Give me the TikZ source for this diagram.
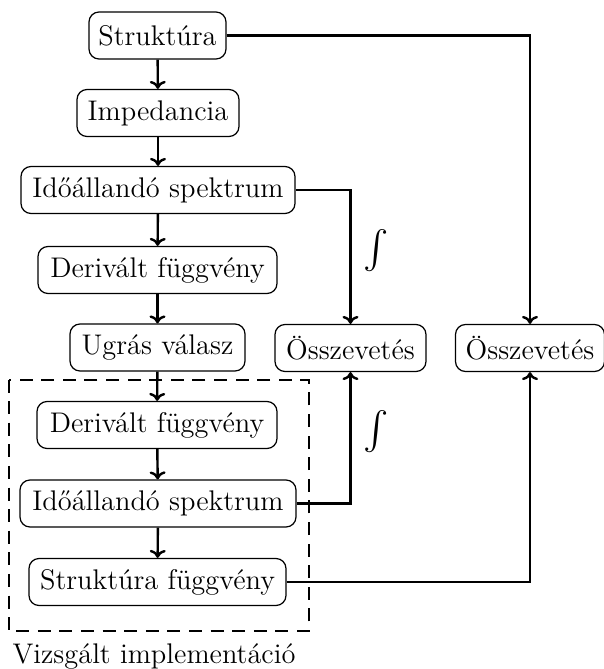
\documentclass[tikz,border=0pt]{standalone}
\usetikzlibrary{arrows.meta}
\begin{document}
\begin{tikzpicture}[x=0.5pt,y=-0.5pt,
  box/.style={draw,line width=0.6pt,rounded corners=5pt,inner sep=0pt,minimum height=23.5pt,font=\fontsize{14.2}{16}\selectfont},
  conn/.style={line width=1.2pt,-{To[length=4pt,width=8pt]}},
  lbl/.style={font=\fontsize{14.2}{16}\selectfont,inner sep=0pt}]
\useasboundingbox (0,0) rectangle (604,669);
\node[box,minimum width=68.5pt] (s) at (157.5,35.5) {Struktúra};
\node[box,minimum width=81pt] (imp) at (158,113) {Impedancia};
\node[box,minimum width=137pt] (ta) at (158,190) {Időállandó spektrum};
\node[box,minimum width=119.5pt] (da) at (157.5,270) {Derivált függvény};
\node[box,minimum width=87.5pt] (u) at (157.5,347.5) {Ugrás válasz};
\node[box,minimum width=120pt] (db) at (157,425) {Derivált függvény};
\node[box,minimum width=138pt] (tb) at (158,503.5) {Időállandó spektrum};
\node[box,minimum width=128.5pt] (sf) at (157.5,582) {Struktúra függvény};
\node[box,minimum width=75.5pt] (o1) at (350.5,348) {Összevetés};
\node[box,minimum width=74.5pt] (o2) at (530,348) {Összevetés};
\draw[line width=1pt,dash pattern=on 6.5pt off 4.3pt] (8.5,379.5) rectangle (309,631);
\node[lbl,anchor=base] (lab) at (154,663) {Vizsgált implementáció};
\node[lbl,scale=1.9] (i1) at (376,251) {$\int$};
\node[lbl,scale=1.9] (i2) at (376,432) {$\int$};
\draw[conn] (s) -- (imp);
\draw[conn] (imp) -- (ta);
\draw[conn] (ta) -- (da);
\draw[conn] (da) -- (u);
\draw[conn] (u) -- (db);
\draw[conn] (db) -- (tb);
\draw[conn] (tb) -- (sf);
\draw[conn] (s.east) -| (o2.north);
\draw[conn] (ta.east) -| (o1.north);
\draw[conn] (tb.east) -| (o1.south);
\draw[conn] (sf.east) -| (o2.south);
\end{tikzpicture}
\end{document}
